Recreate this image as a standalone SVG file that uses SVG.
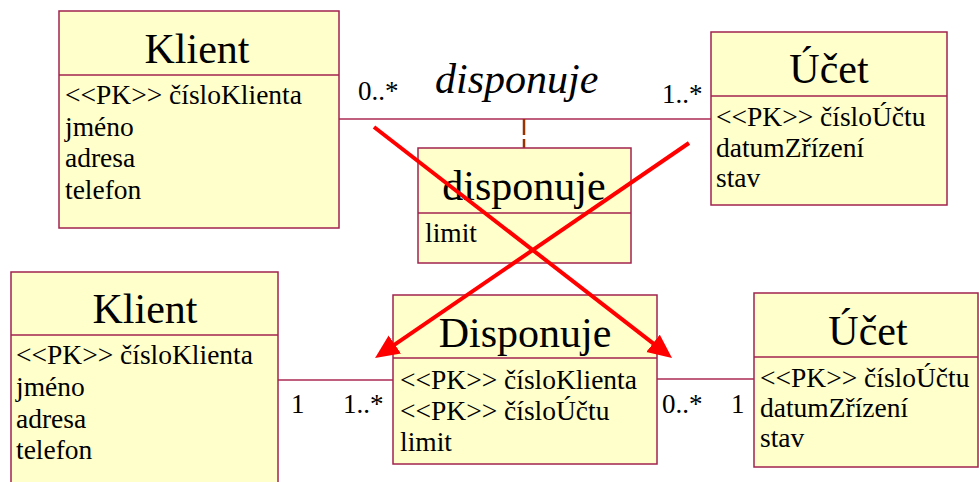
<svg xmlns="http://www.w3.org/2000/svg" width="979" height="482" viewBox="0 0 979 482">
<style>
.box{fill:#ffffcc;stroke:#a3234f;stroke-width:1.5}
.div{stroke:#a3234f;stroke-width:1.5}
.title{font-family:"Liberation Serif","Times New Roman",serif;font-size:42px;text-anchor:middle;fill:#000}
.attr{font-family:"Liberation Serif","Times New Roman",serif;font-size:27.5px;fill:#000}
.mult{font-family:"Liberation Serif","Times New Roman",serif;font-size:27px;fill:#000}
.assoc{stroke:#c0607e;stroke-width:2;fill:none}
.dash{stroke:#993300;stroke-width:2.5;stroke-dasharray:16,4;fill:none}
.cross{stroke:#ff0000;stroke-width:4;fill:none}
</style>
<defs>
<marker id="arr" markerUnits="userSpaceOnUse" markerWidth="26" markerHeight="24" refX="14" refY="11" orient="auto">
<path d="M0,0 L24,11 L0,22 z" fill="#ff0000"/>
</marker>
</defs>
<rect width="979" height="482" fill="#ffffff"/>
<g id="connectors">
<line class="assoc" x1="339" y1="119" x2="711" y2="119"/>
<line class="dash" x1="524" y1="119" x2="524" y2="148"/>
<line class="assoc" x1="278" y1="380" x2="393" y2="380"/>
<line class="assoc" x1="657" y1="379" x2="754" y2="379"/>
<text class="mult" x="358" y="100">0..*</text>
<text x="435" y="93" font-family="Liberation Serif, Times New Roman, serif" font-size="42" font-style="italic">disponuje</text>
<text class="mult" x="662" y="103">1..*</text>
<text class="mult" x="291" y="413">1</text>
<text class="mult" x="343" y="413">1..*</text>
<text class="mult" x="662" y="413">0..*</text>
<text class="mult" x="731" y="413">1</text>
</g>
<g id="klient-top">
<rect class="box" x="59" y="11" width="280" height="217"/>
<line class="div" x1="59" y1="75" x2="339" y2="75"/>
<text class="title" x="197" y="63">Klient</text>
<text class="attr" x="65" y="104">&lt;&lt;PK&gt;&gt; čísloKlienta</text>
<text class="attr" x="65" y="136">jméno</text>
<text class="attr" x="65" y="167">adresa</text>
<text class="attr" x="65" y="199">telefon</text>
</g>
<g id="ucet-top">
<rect class="box" x="711" y="32" width="236" height="173"/>
<line class="div" x1="711" y1="96" x2="947" y2="96"/>
<text class="title" x="829" y="83">Účet</text>
<text class="attr" x="716" y="126">&lt;&lt;PK&gt;&gt; čísloÚčtu</text>
<text class="attr" x="716" y="157">datumZřízení</text>
<text class="attr" x="716" y="187">stav</text>
</g>
<g id="disponuje-assoc">
<rect class="box" x="418" y="148" width="213" height="115"/>
<line class="div" x1="418" y1="213" x2="631" y2="213"/>
<text class="title" x="524" y="200">disponuje</text>
<text class="attr" x="425" y="242">limit</text>
</g>
<g id="klient-bottom">
<rect class="box" x="11" y="272" width="267" height="220"/>
<line class="div" x1="11" y1="335" x2="278" y2="335"/>
<text class="title" x="145" y="323">Klient</text>
<text class="attr" x="16" y="364">&lt;&lt;PK&gt;&gt; čísloKlienta</text>
<text class="attr" x="16" y="396">jméno</text>
<text class="attr" x="16" y="428">adresa</text>
<text class="attr" x="16" y="459">telefon</text>
</g>
<g id="disponuje">
<rect class="box" x="393" y="295" width="264" height="169"/>
<line class="div" x1="393" y1="358" x2="657" y2="358"/>
<text class="title" x="525" y="347">Disponuje</text>
<text class="attr" x="400" y="389">&lt;&lt;PK&gt;&gt; čísloKlienta</text>
<text class="attr" x="400" y="420">&lt;&lt;PK&gt;&gt; čísloÚčtu</text>
<text class="attr" x="400" y="451">limit</text>
</g>
<g id="ucet-bottom">
<rect class="box" x="754" y="293" width="224" height="174"/>
<line class="div" x1="754" y1="357" x2="978" y2="357"/>
<text class="title" x="868" y="345">Účet</text>
<text class="attr" x="760" y="387">&lt;&lt;PK&gt;&gt; čísloÚčtu</text>
<text class="attr" x="760" y="417">datumZřízení</text>
<text class="attr" x="760" y="447">stav</text>
</g>
<g id="cross">
<line class="cross" x1="374" y1="127" x2="664.1" y2="351.9" marker-end="url(#arr)"/>
<line class="cross" x1="689" y1="143" x2="383.3" y2="352.4" marker-end="url(#arr)"/>
</g>
</svg>
